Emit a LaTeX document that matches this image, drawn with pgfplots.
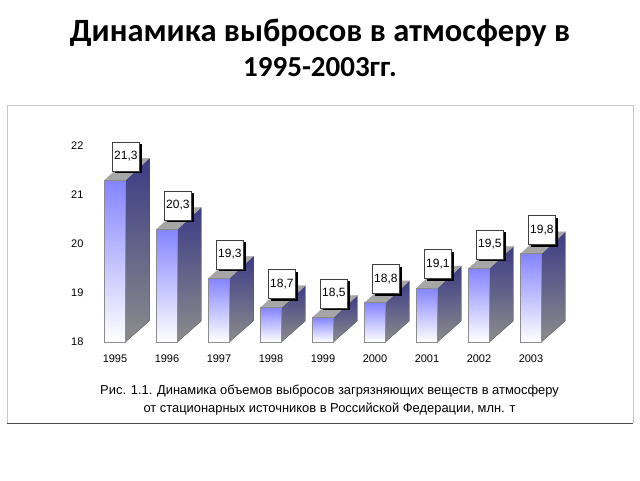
\documentclass[border=0pt]{standalone}
\usepackage{fontspec}
\setmainfont{Liberation Sans}
\newfontfamily\titlefont{Carlito}
\usepackage{pgfplots}
\pgfplotsset{compat=1.18}
\usetikzlibrary{shadows}
\usepackage{pgfplotstable}

% label boxes: position of the box, text
\pgfplotstableread{
x y lab
0.21 21.79 21,3
1.21 20.79 20,3
2.21 19.79 19,3
3.21 19.19 18,7
4.21 18.99 18,5
5.21 19.29 18,8
6.21 19.59 19,1
7.21 19.99 19,5
8.21 20.29 19,8
}\labels

\pgfplotsset{
  front/.style={ybar, bar shift=0pt, bar width=21pt, draw=gray!90, line width=0.8pt,
    shade, top color=frontTop, bottom color=white},
  side/.style={draw=gray!60!black, line width=0.3pt, shade, top color=sideTop, bottom color=sideBot},
  topface/.style={draw=gray!70, line width=0.3pt, fill=topGrey},
}
\definecolor{frontTop}{HTML}{8484FF}
\definecolor{sideTop}{HTML}{3C3C86}
\definecolor{sideBot}{HTML}{8C8C8C}
\definecolor{topGrey}{HTML}{A6A6A6}

\begin{document}
\begin{tikzpicture}[x=1pt,y=1pt]
\path[use as bounding box,fill=white] (0,0) rectangle (640,480);
% frame round the pasted chart
\fill[white] (7,57) rectangle (633,375);
\draw[gray!45,line width=0.8pt] (7,57) -- (7,375) -- (633,375) -- (633,57);
\draw[gray!60!black,line width=1pt] (7,57) -- (633,57);
\node[font=\titlefont\bfseries\fontsize{32.5}{36}\selectfont,anchor=center] at (320,447) {Динамика выбросов в атмосферу в};
\node[font=\titlefont\bfseries\fontsize{29}{32}\selectfont,anchor=center] at (320,413) {1995-2003гг.};
\begin{axis}[
    at={(115pt,138pt)}, anchor=origin,
    scale only axis,
    width=468pt, height=196pt,
    xmin=-0.5, xmax=8.5,
    ymin=18, ymax=22,
    clip=false,
    axis line style={draw=none},
    tick style={draw=none},
    xtick={0,...,8},
    xticklabels={1995,1996,1997,1998,1999,2000,2001,2002,2003},
    ytick={18,19,20,21,22},
    tick label style={font=\fontsize{11}{13}\selectfont},
    /pgf/number format/assume math mode=true,
    /pgf/number format/1000 sep={},
    xticklabel style={yshift=-9pt},
    yticklabel style={xshift=-2pt},
]
% 1995
\addplot[side] coordinates {(0.2,18)(0.66,18.43)(0.66,21.75)(0.2,21.3)} -- cycle;
\addplot[topface] coordinates {(-0.2,21.3)(0.2,21.3)(0.66,21.75)(0.26,21.75)} -- cycle;
\addplot[front] coordinates {(0,21.3)};
% 1996
\addplot[side] coordinates {(1.2,18)(1.66,18.43)(1.66,20.75)(1.2,20.3)} -- cycle;
\addplot[topface] coordinates {(0.8,20.3)(1.2,20.3)(1.66,20.75)(1.26,20.75)} -- cycle;
\addplot[front] coordinates {(1,20.3)};
% 1997
\addplot[side] coordinates {(2.2,18)(2.66,18.43)(2.66,19.75)(2.2,19.3)} -- cycle;
\addplot[topface] coordinates {(1.8,19.3)(2.2,19.3)(2.66,19.75)(2.26,19.75)} -- cycle;
\addplot[front] coordinates {(2,19.3)};
% 1998
\addplot[side] coordinates {(3.2,18)(3.66,18.43)(3.66,19.15)(3.2,18.7)} -- cycle;
\addplot[topface] coordinates {(2.8,18.7)(3.2,18.7)(3.66,19.15)(3.26,19.15)} -- cycle;
\addplot[front] coordinates {(3,18.7)};
% 1999
\addplot[side] coordinates {(4.2,18)(4.66,18.43)(4.66,18.95)(4.2,18.5)} -- cycle;
\addplot[topface] coordinates {(3.8,18.5)(4.2,18.5)(4.66,18.95)(4.26,18.95)} -- cycle;
\addplot[front] coordinates {(4,18.5)};
% 2000
\addplot[side] coordinates {(5.2,18)(5.66,18.43)(5.66,19.25)(5.2,18.8)} -- cycle;
\addplot[topface] coordinates {(4.8,18.8)(5.2,18.8)(5.66,19.25)(5.26,19.25)} -- cycle;
\addplot[front] coordinates {(5,18.8)};
% 2001
\addplot[side] coordinates {(6.2,18)(6.66,18.43)(6.66,19.55)(6.2,19.1)} -- cycle;
\addplot[topface] coordinates {(5.8,19.1)(6.2,19.1)(6.66,19.55)(6.26,19.55)} -- cycle;
\addplot[front] coordinates {(6,19.1)};
% 2002
\addplot[side] coordinates {(7.2,18)(7.66,18.43)(7.66,19.95)(7.2,19.5)} -- cycle;
\addplot[topface] coordinates {(6.8,19.5)(7.2,19.5)(7.66,19.95)(7.26,19.95)} -- cycle;
\addplot[front] coordinates {(7,19.5)};
% 2003
\addplot[side] coordinates {(8.2,18)(8.66,18.43)(8.66,20.25)(8.2,19.8)} -- cycle;
\addplot[topface] coordinates {(7.8,19.8)(8.2,19.8)(8.66,20.25)(8.26,20.25)} -- cycle;
\addplot[front] coordinates {(8,19.8)};
% value boxes
\addplot[draw=none, mark=none, point meta=explicit symbolic,
    nodes near coords,
    nodes near coords align={center},
    nodes near coords style={anchor=center, fill=white, draw=gray!50!black, line width=0.4pt,
      minimum width=27pt, minimum height=29pt, inner sep=0pt,
      font=\fontsize{12}{14}\selectfont,
      drop shadow={shadow xshift=2.5pt, shadow yshift=-2.5pt, fill=black, opacity=1}},
] table[x=x, y=y, meta=lab] {\labels};
\end{axis}
\node[font=\fontsize{12.9}{15}\selectfont] at (329.5,89) {Рис. 1.1. Динамика объемов выбросов загрязняющих веществ в атмосферу};
\node[font=\fontsize{12.9}{15}\selectfont] at (329.5,71) {от стационарных источников в Российской Федерации, млн. т};
\end{tikzpicture}
\end{document}
